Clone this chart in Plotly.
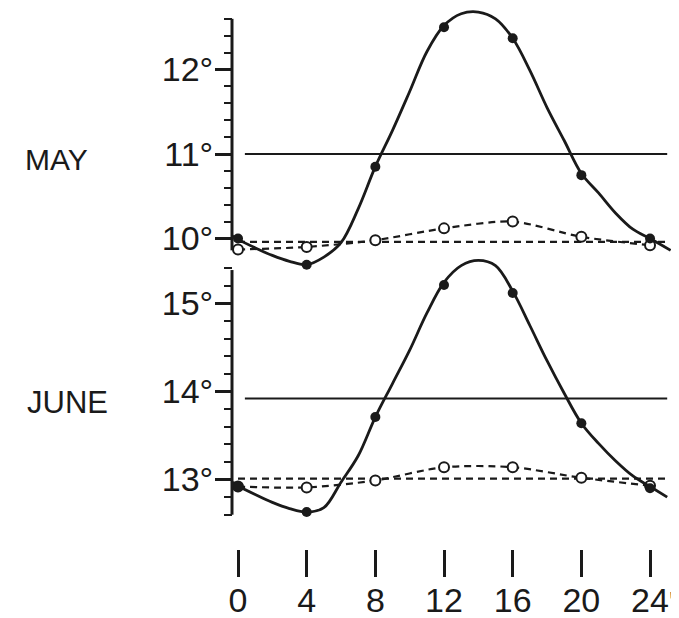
import plotly.graph_objects as go

# ---------------- data ----------------
hours_obs = [0, 4, 8, 12, 16, 20, 24]
x_tick_vals = [0, 4, 8, 12, 16, 20, 24]
x_tick_text = ["0", "4", "8", "12", "16", "20", "24"]

# MAY
may_curve_hours = [-0.3, 0, 1, 2, 3, 4, 5, 6, 7, 8, 9, 10, 11, 12, 13, 14, 15, 16,
                   17, 18, 19, 20, 21, 22, 23, 24, 25.2]
may_curve_vals = [10.03, 9.99, 9.89, 9.80, 9.73, 9.69, 9.78, 9.95, 10.35, 10.85, 11.28,
                  11.74, 12.21, 12.52, 12.66, 12.68, 12.60, 12.37, 11.99, 11.55, 11.16,
                  10.77, 10.54, 10.30, 10.11, 10.00, 9.86]
may_obs_solid = [10.00, 9.69, 10.85, 12.50, 12.37, 10.75, 10.00]
may_obs_open = [9.87, 9.90, 9.98, 10.12, 10.20, 10.02, 9.92]
may_mean_solid = 11.0
may_mean_dashed = 9.96

# JUNE
june_curve_hours = [-0.3, 0, 1, 2, 3, 4, 5, 6, 7, 8, 9, 10, 11, 12, 13, 14, 15, 16,
                    17, 18, 19, 20, 21, 22, 23, 24, 25.0]
june_curve_vals = [12.97, 12.93, 12.83, 12.74, 12.67, 12.63, 12.68, 12.97, 13.27, 13.71,
                   14.09, 14.47, 14.89, 15.24, 15.43, 15.49, 15.43, 15.14, 14.75, 14.35,
                   13.98, 13.64, 13.41, 13.21, 13.04, 12.92, 12.80]
june_obs_solid = [12.92, 12.63, 13.71, 15.21, 15.12, 13.64, 12.90]
june_obs_open = [12.92, 12.91, 12.99, 13.14, 13.14, 13.02, 12.93]
june_mean_solid = 13.92
june_mean_dashed = 13.01

mean_solid_span = [0.4, 25.0]
mean_dashed_span = [0.0, 25.0]

may_tick_vals = [10, 11, 12]
may_tick_text = ["10°", "11°", "12°"]
may_minor_vals = [10.2, 10.4, 10.6, 10.8, 11.2, 11.4, 11.6, 11.8, 12.2, 12.4, 12.6]
may_axis_span = [9.86, 12.6]

june_tick_vals = [13, 14, 15]
june_tick_text = ["13°", "14°", "15°"]
june_minor_vals = [12.6, 12.8, 13.2, 13.4, 13.6, 13.8, 14.2, 14.4, 14.6, 14.8, 15.2, 15.4]
june_axis_span = [12.6, 15.38]

# ---------------- figure ----------------
FONT = "Liberation Sans, Arial, sans-serif"
INK = "#1a1a1a"

fig = go.Figure()


def add_panel(yref, curve_h, curve_v, obs_solid, obs_open, mean_solid, mean_dashed):
    # straight dashed mean line
    fig.add_trace(go.Scatter(x=mean_dashed_span, y=[mean_dashed, mean_dashed], mode="lines",
                             line=dict(color=INK, width=2.2, dash="7px,5px"),
                             yaxis=yref, showlegend=False, hoverinfo="skip"))
    # solid mean line
    fig.add_trace(go.Scatter(x=mean_solid_span, y=[mean_solid, mean_solid], mode="lines",
                             line=dict(color=INK, width=2),
                             yaxis=yref, showlegend=False, hoverinfo="skip"))
    # dashed curve with open circles
    fig.add_trace(go.Scatter(x=hours_obs, y=obs_open, mode="lines+markers",
                             line=dict(color=INK, width=2.2, dash="7px,5px", shape="spline",
                                       smoothing=0.8),
                             marker=dict(symbol="circle", size=10, color="white",
                                         line=dict(color=INK, width=2)),
                             cliponaxis=False, yaxis=yref, showlegend=False))
    # solid smooth curve
    fig.add_trace(go.Scatter(x=curve_h, y=curve_v, mode="lines",
                             line=dict(color=INK, width=2.8, shape="spline", smoothing=1.0),
                             yaxis=yref, showlegend=False, hoverinfo="skip"))
    # filled observation points
    fig.add_trace(go.Scatter(x=hours_obs, y=obs_solid, mode="markers",
                             marker=dict(symbol="circle", size=10, color=INK),
                             cliponaxis=False, yaxis=yref, showlegend=False))


add_panel("y", may_curve_hours, may_curve_vals, may_obs_solid, may_obs_open,
          may_mean_solid, may_mean_dashed)
add_panel("y2", june_curve_hours, june_curve_vals, june_obs_solid, june_obs_open,
          june_mean_solid, june_mean_dashed)

yaxis_common = dict(
    showline=False, showgrid=False, zeroline=False,
    ticks="outside", ticklen=17, tickwidth=2.5, tickcolor=INK,
    tickfont=dict(family=FONT, size=34, color=INK),
    ticklabelstandoff=-5,
    anchor="free", position=0,
)

fig.update_layout(
    width=671, height=610,
    margin=dict(l=224, r=7, t=0, b=41),
    paper_bgcolor="white", plot_bgcolor="rgba(0,0,0,0)",
    xaxis=dict(range=[-0.35, 25.28], anchor="free", position=0, side="bottom",
               showline=False, showgrid=False, zeroline=False,
               tickmode="array", tickvals=x_tick_vals, ticktext=x_tick_text,
               ticks="inside", ticklen=27, tickwidth=3, tickcolor=INK,
               tickfont=dict(family=FONT, size=34, color=INK)),
    yaxis=dict(domain=[0.53603, 1.0], range=[9.6036, 12.728],
               tickmode="array", tickvals=may_tick_vals, ticktext=may_tick_text,
               minor=dict(tickmode="array", tickvals=may_minor_vals, ticks="outside",
                          ticklen=8, tickwidth=2, tickcolor=INK),
               **yaxis_common),
    yaxis2=dict(domain=[0.10018, 0.56591], range=[12.540, 15.551],
                tickmode="array", tickvals=june_tick_vals, ticktext=june_tick_text,
                minor=dict(tickmode="array", tickvals=june_minor_vals, ticks="outside",
                           ticklen=8, tickwidth=2, tickcolor=INK),
                **yaxis_common),
    shapes=[
        dict(type="line", xref="paper", x0=0, x1=0, yref="y",
             y0=may_axis_span[0], y1=may_axis_span[1], line=dict(color=INK, width=3)),
        dict(type="line", xref="paper", x0=0, x1=0, yref="y2",
             y0=june_axis_span[0], y1=june_axis_span[1], line=dict(color=INK, width=3)),
    ],
    annotations=[
        dict(text="MAY", xref="paper", yref="paper", x=-0.475, y=0.7346,
             xanchor="left", yanchor="middle", showarrow=False,
             font=dict(family=FONT, size=30, color=INK)),
        dict(text="JUNE", xref="paper", yref="paper", x=-0.470, y=0.3058,
             xanchor="left", yanchor="middle", showarrow=False,
             font=dict(family=FONT, size=31, color=INK)),
        dict(text="'", xref="paper", yref="paper", x=1.0, y=-0.01,
             xanchor="center", yanchor="top", showarrow=False,
             font=dict(family=FONT, size=30, color=INK)),
    ],
)

fig.write_html("out.html")
